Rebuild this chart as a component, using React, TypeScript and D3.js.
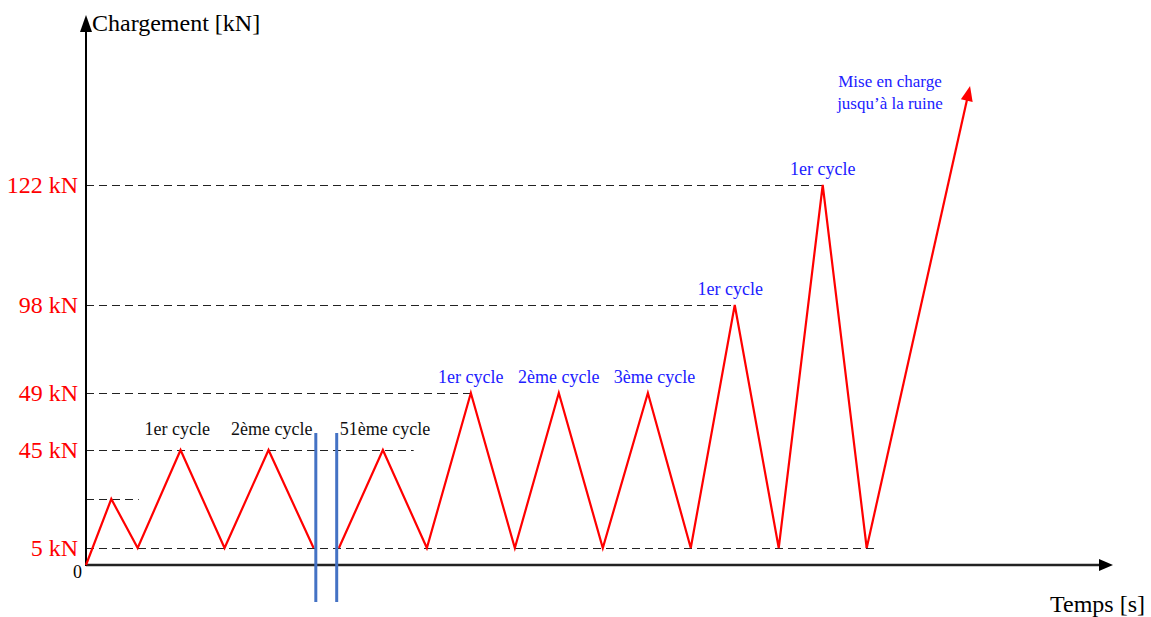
import React from "react";
import * as d3 from "d3";

// ---- data ----
const levelValues = [5, 45, 49, 98, 122];
const levelLabels = ["5 kN", "45 kN", "49 kN", "98 kN", "122 kN"];
// schematic (non-linear) load axis anchors
const loadAnchors = [0, 5, 45, 49, 98, 122, 142];

// first part of the loading history (before the break)
const part1Time = [0, 1.15, 2.35, 4.3, 6.3, 8.3, 10.35];
const part1Load = [0, 25, 5, 45, 5, 45, 5];
// second part (after the break)
const part2Time = [11.5, 13.5, 15.5, 17.5, 19.5, 21.5, 23.5, 25.55, 27.5, 29.5, 31.5, 33.5, 35.5];
const part2Load = [5, 45, 5, 49, 5, 49, 5, 49, 5, 98, 5, 122, 5];
// final ramp to failure
const rampTime = [35.5, 40.2];
const rampLoad = [5, 142];

// dashed reference lines: load and end time
const refLoads = [5, 25, 45, 49, 98, 122];
const refEnds = [35.9, 2.4, 14.9, 17.5, 29.5, 33.5];

// cycle annotations
const blackLabels = ["1er cycle", "2ème cycle", "51ème cycle"];
const blackLabelTime = [4.15, 8.45, 13.6];
const blackLabelLoad = [45, 45, 45];
const blueLabels = ["1er cycle", "2ème cycle", "3ème cycle", "1er cycle", "1er cycle"];
const blueLabelTime = [17.5, 21.5, 25.85, 29.3, 33.5];
const blueLabelLoad = [49, 49, 49, 98, 122];
const rampLabel = ["Mise en charge", "jusqu’à la ruine"];

const breakTimes = [10.45, 11.4];

export default function App() {
  const W = 1151, H = 617;
  const x0 = 86, y0 = 565;
  const x = d3.scaleLinear().domain([0, 46.7]).range([x0, 1113]);
  const y = d3.scaleLinear().domain(loadAnchors).range([565, 548, 450, 393, 305, 185, 86]);

  const line = d3.line<[number, number]>().x(d => x(d[0])).y(d => y(d[1]));
  const p1 = part1Time.map((t, i) => [t, part1Load[i]] as [number, number]);
  const p2 = part2Time.map((t, i) => [t, part2Load[i]] as [number, number]);

  // ramp arrow head
  const ax = x(rampTime[1]), ay = y(rampLoad[1]);
  const bx = x(rampTime[0]), by = y(rampLoad[0]);
  const ang = Math.atan2(ay - by, ax - bx);
  const hl = 15, hw = 6;
  const ux = Math.cos(ang), uy = Math.sin(ang);
  const headPts = [
    [ax, ay],
    [ax - hl * ux - hw * uy, ay - hl * uy + hw * ux],
    [ax - hl * ux + hw * uy, ay - hl * uy - hw * ux],
  ].map(p => p.join(",")).join(" ");
  const lineEndX = ax - hl * 0.8 * ux, lineEndY = ay - hl * 0.8 * uy;

  const serif = "'Liberation Serif', 'DejaVu Serif', serif";
  const blue = "#2020ff";

  return (
    <svg width={W} height={H} style={{ position: "absolute", left: 0, top: 0 }} fontFamily={serif}>
      <rect width={W} height={H} fill="#fff" />
      {/* dashed reference lines */}
      {refLoads.map((v, i) => (
        <line key={"r" + i} x1={x0} x2={x(refEnds[i])} y1={y(v) + 0.5} y2={y(v) + 0.5}
          stroke="#222" strokeWidth={1} strokeDasharray="8,5" />
      ))}
      {/* axes */}
      <line x1={x0} y1={y0} x2={1100} y2={y0} stroke="#222" strokeWidth={2.5} />
      <polygon points={`1113,${y0} 1099,${y0 - 6} 1099,${y0 + 6}`} fill="#000" />
      <line x1={x0} y1={y0 + 1} x2={x0} y2={28} stroke="#000" strokeWidth={2} />
      <polygon points={`${x0},15 ${x0 - 6},32 ${x0 + 6},32`} fill="#000" />
      <text x={92} y={31} fontSize={24} fill="#000">Chargement [kN]</text>
      <text x={1145} y={612} fontSize={24} fill="#000" textAnchor="end">Temps [s]</text>
      <text x={82} y={578} fontSize={18} fill="#000" textAnchor="end">0</text>
      {/* y level labels */}
      {levelValues.map((v, i) => (
        <text key={"l" + i} x={78} y={y(v) + 8} fontSize={24} fill="#ff0000" textAnchor="end">{levelLabels[i]}</text>
      ))}
      {/* load history */}
      <path d={line(p1) || ""} fill="none" stroke="#ff0000" strokeWidth={2.2} strokeLinejoin="miter" />
      <path d={line(p2) || ""} fill="none" stroke="#ff0000" strokeWidth={2.2} strokeLinejoin="miter" />
      <line x1={bx} y1={by} x2={lineEndX} y2={lineEndY} stroke="#ff0000" strokeWidth={2.2} />
      <polygon points={headPts} fill="#ff0000" />
      {/* break marks */}
      {breakTimes.map((t, i) => (
        <line key={"b" + i} x1={x(t)} x2={x(t)} y1={433} y2={602} stroke="#4472c4" strokeWidth={3} />
      ))}
      {/* labels */}
      {blackLabels.map((s, i) => (
        <text key={"k" + i} x={x(blackLabelTime[i])} y={y(blackLabelLoad[i]) - 15} fontSize={18}
          fill="#111" textAnchor="middle">{s}</text>
      ))}
      {blueLabels.map((s, i) => (
        <text key={"u" + i} x={x(blueLabelTime[i])} y={y(blueLabelLoad[i]) - 10} fontSize={18}
          fill={blue} textAnchor="middle">{s}</text>
      ))}
      <text x={890} y={87} fontSize={17} fill={blue} textAnchor="middle">{rampLabel[0]}</text>
      <text x={890} y={109} fontSize={17} fill={blue} textAnchor="middle">{rampLabel[1]}</text>
    </svg>
  );
}
